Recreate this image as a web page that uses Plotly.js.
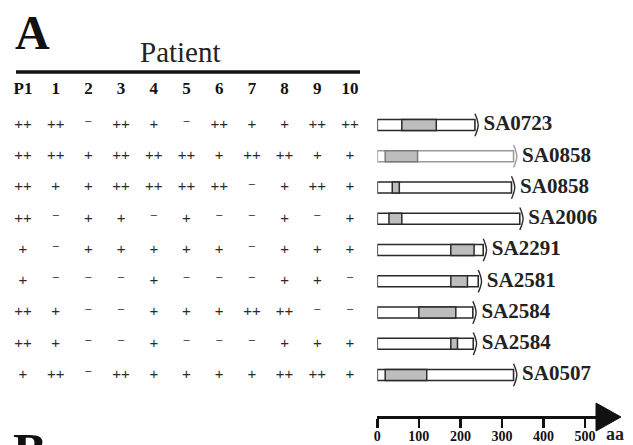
<!DOCTYPE html>
<html><head><meta charset="utf-8">
<script src="https://cdn.plot.ly/plotly-3.0.1.min.js"></script>
<style>html,body{margin:0;padding:0;background:#fff;}#chart{width:633px;height:445px;}</style>
</head><body><div id="chart"></div>
<script>
// ---- data ----
const patients = ['P1','1','2','3','4','5','6','7','8','9','10'];
const genes = ['SA0723','SA0858','SA0858','SA2006','SA2291','SA2581','SA2584','SA2584','SA0507'];
const geneLength = [243, 336, 331, 351, 263, 251, 238, 239, 336];   // aa
const domainStart = [59, 19, 36, 28, 177, 177, 100, 177, 19];
const domainEnd   = [142, 97, 53, 59, 233, 217, 189, 193, 119];
const scaleTicks = [0, 100, 200, 300, 400, 500];

const sa0723  = ['++','++','-','++','+','-','++','+','+','++','++'];
const sa0858a = ['++','++','+','++','++','++','+','++','++','+','+'];
const sa0858b = ['++','+','+','++','++','++','++','-','+','++','+'];
const sa2006  = ['++','-','+','+','-','+','-','-','+','-','+'];
const sa2291  = ['+','-','+','+','+','+','+','-','+','+','+'];
const sa2581  = ['+','-','-','-','+','-','-','-','+','+','-'];
const sa2584a = ['++','+','-','-','+','+','+','++','++','-','-'];
const sa2584b = ['++','+','-','-','+','-','-','-','+','+','+'];
const sa0507  = ['+','++','-','++','+','+','+','+','++','++','+'];
const table = [sa0723, sa0858a, sa0858b, sa2006, sa2291, sa2581, sa2584a, sa2584b, sa0507];

// ---- styling ----
const SERIF = 'Liberation Serif, Times New Roman, serif';
const SANS = 'Liberation Sans, Arial, sans-serif';
const rows = genes.map((g, i) => i);
const headW = 8; // aa
const outline = genes.map((g, i) => i === 1 ? '#9a9a9a' : '#2a2a2a');
const domOutline = genes.map((g, i) => i === 1 ? '#7a7a7a' : '#2a2a2a');

const traces = [];
// gene bodies
traces.push({type:'bar', orientation:'h', xaxis:'x2', yaxis:'y',
  y: rows, base: rows.map(() => 0), x: geneLength.map(L => L - headW), width: 0.352,
  marker:{color:'#ffffff', line:{color: outline, width:1.6}}, hoverinfo:'skip', showlegend:false});
// domains
traces.push({type:'bar', orientation:'h', xaxis:'x2', yaxis:'y',
  y: rows, base: domainStart, x: domainEnd.map((e, i) => e - domainStart[i]), width: 0.352,
  marker:{color:'#bdbdbd', line:{color: domOutline, width:1.5}}, hoverinfo:'skip', showlegend:false});
// arrow heads
geneLength.forEach((L, i) => {
  traces.push({type:'scatter', mode:'lines', xaxis:'x2', yaxis:'y', cliponaxis:false,
    x:[L - headW, L - headW*0.4, L, L - headW*0.4, L - headW],
    y:[i - 0.36, i - 0.2, i, i + 0.2, i + 0.36],
    line:{color: outline[i], width:1.4, shape:'spline'}, hoverinfo:'skip', showlegend:false});
});
// gene labels
traces.push({type:'scatter', mode:'text', xaxis:'x2', yaxis:'y', cliponaxis:false,
  x: geneLength, y: rows, text: genes.map(g => '\u00a0' + g), textposition:'middle right',
  textfont:{family:SERIF, size:21, color:'#222', weight:'bold'}, hoverinfo:'skip', showlegend:false});
// table
const px = [], py = [], pt = [], mx = [], my = [], mt = [];
table.forEach((r, i) => r.forEach((v, j) => {
  if (v === '-') { mx.push(j); my.push(i); mt.push('\u2013'); }
  else { px.push(j); py.push(i); pt.push(v); }
}));
traces.push({type:'scatter', mode:'text', xaxis:'x', yaxis:'y', cliponaxis:false,
  x:px, y:py, text:pt, textposition:'middle center',
  textfont:{family:SANS, size:15, color:'#2a2a2a'}, hoverinfo:'skip', showlegend:false});
traces.push({type:'scatter', mode:'text', xaxis:'x', yaxis:'y3', cliponaxis:false,
  x:mx, y:my, text:mt, textposition:'middle center',
  textfont:{family:SANS, size:11, color:'#2a2a2a'}, hoverinfo:'skip', showlegend:false});
// column headers
traces.push({type:'scatter', mode:'text', xaxis:'x', yaxis:'y', cliponaxis:false,
  x: patients.map((p, j) => j), y: patients.map(() => -1.12), text: patients, textposition:'middle center',
  textfont:{family:SERIF, size:17, color:'#111', weight:'bold'}, hoverinfo:'skip', showlegend:false});

const layout = {
  width:633, height:445, margin:{l:0, r:0, t:0, b:0}, autosize:false,
  paper_bgcolor:'#ffffff', plot_bgcolor:'rgba(0,0,0,0)',
  barmode:'overlay', showlegend:false,
  xaxis:{domain:[0,1], range:[-0.703, 18.654], visible:false, fixedrange:true},
  yaxis:{domain:[0,1], range:[10.24, -4], visible:false, fixedrange:true},
  yaxis3:{overlaying:'y', range:[10.24 + 0.12, -4 + 0.12], visible:false, fixedrange:true},
  xaxis2:{domain:[377.3/633, 597/633], range:[0, 528.9], anchor:'free', position: (445-417)/445,
    showline:true, linewidth:3, linecolor:'#111', ticks:'outside', ticklen:9, tickwidth:2.5, tickcolor:'#111',
    tickvals: scaleTicks, ticktext: scaleTicks.map(String), ticklabelstandoff:-4,
    tickfont:{family:SERIF, size:14, color:'#111', weight:'bold'},
    showgrid:false, zeroline:false, fixedrange:true},
  shapes:[
    {type:'line', xref:'paper', yref:'paper', x0:16/633, x1:360/633, y0:1-72/445, y1:1-72/445,
     line:{color:'#111', width:3.5}},
    {type:'path', xref:'paper', yref:'paper',
     path:`M ${596/633} ${1-403/445} L ${621/633} ${1-417/445} L ${596/633} ${1-431/445} Z`,
     fillcolor:'#111', line:{color:'#111', width:1}}
  ],
  annotations:[
    {text:'A', xref:'paper', yref:'paper', x:13/633, y:1-32/445, xanchor:'left', yanchor:'middle', showarrow:false,
     font:{family:SERIF, size:48, color:'#111', weight:'bold'}},
    {text:'Patient', xref:'paper', yref:'paper', x:180.5/633, y:1-52/445, xanchor:'center', yanchor:'middle', showarrow:false,
     font:{family:SERIF, size:29, color:'#222'}},
    {text:'aa', xref:'paper', yref:'paper', x:615/633, y:1-434/445, xanchor:'center', yanchor:'middle', showarrow:false,
     font:{family:SERIF, size:18, color:'#222', weight:'bold'}},
    {text:'B', xref:'paper', yref:'paper', x:11/633, y:1-451/445, xanchor:'left', yanchor:'middle', showarrow:false,
     font:{family:SERIF, size:50, color:'#111', weight:'bold'}}
  ]
};
Plotly.newPlot('chart', traces, layout, {staticPlot:true, displayModeBar:false});
</script></body></html>
